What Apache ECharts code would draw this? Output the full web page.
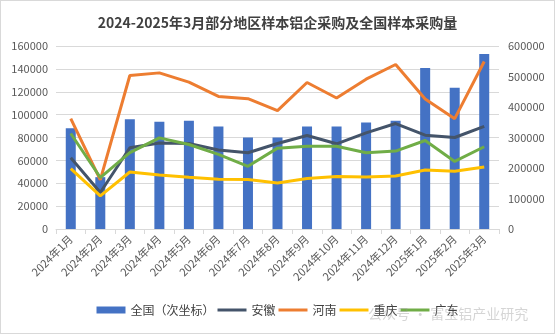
<!DOCTYPE html>
<html><head><meta charset="utf-8">
<script src="https://cdn.jsdelivr.net/npm/echarts@6/dist/echarts.min.js"></script>
<style>html,body{margin:0;padding:0;background:#fff}#c{width:553px;height:332px;border:1px solid #d9d9d9}</style>
</head><body><div id="c"></div>
<script>
const title = '2024-2025年3月部分地区样本铝企采购及全国样本采购量';
const categories = ['2024年1月','2024年2月','2024年3月','2024年4月','2024年5月','2024年6月','2024年7月','2024年8月','2024年9月','2024年10月','2024年11月','2024年12月','2025年1月','2025年2月','2025年3月'];
const national = [330000,170000,360000,352000,355000,336000,300000,300000,336000,336000,349000,355000,528000,463000,574000];
const anhui = [62300,31900,71000,75100,74800,69000,66700,74800,81700,74500,84100,92200,82000,80000,89800];
const henan = [96500,43000,134200,136500,128400,115900,113900,103500,128100,114500,131000,143800,113600,96500,146400];
const chongqing = [52800,29000,49800,47200,45200,43500,43200,40300,44100,45800,45500,46400,51600,50400,54200];
const guangdong = [83500,45000,66700,79700,73900,65200,54800,70700,72400,72400,66700,68100,77400,59100,71900];
const leftTicks = {min:0, max:160000, interval:20000};
const rightTicks = {min:0, max:600000, interval:100000};

const chart = echarts.init(document.getElementById('c'));
const font = '"Noto Sans CJK SC","Liberation Sans",sans-serif';
const lab = {color:'#595959', fontSize:11, fontFamily:font};
const numFmt = v => String(v);
const lineIcon = 'path://M0,0L29,0L29,3L0,3Z';
function line(name, data, color){
  return {name, type:'line', data, yAxisIndex:0, symbol:'none', showSymbol:false, smooth:false,
    lineStyle:{color, width:3}, itemStyle:{color}, z:3};
}
chart.setOption({
  animation:false,
  title:{text:title, left:'center', top:10, textStyle:{fontSize:14, fontWeight:'bold', color:'#404040', fontFamily:font}},
  grid:{left:55, right:55, top:45, bottom:104, containLabel:false},
  legend:{bottom:12, left:'center', itemWidth:29, itemHeight:7, itemGap:3,
    textStyle:{fontSize:12, color:'#404040', fontFamily:font},
    data:[{name:'全国（次坐标）', icon:'rect'},{name:'安徽',icon:lineIcon},{name:'河南',icon:lineIcon},{name:'重庆',icon:lineIcon},{name:'广东',icon:lineIcon}]},
  xAxis:{type:'category', data:categories, boundaryGap:true,
    axisLine:{lineStyle:{color:'#d9d9d9'}}, axisTick:{show:true, length:5, lineStyle:{color:'#d9d9d9'}},
    axisLabel:Object.assign({rotate:45, interval:0, margin:8}, lab)},
  yAxis:[
    {type:'value', min:leftTicks.min, max:leftTicks.max, interval:leftTicks.interval,
     axisLine:{show:false}, axisTick:{show:false}, axisLabel:Object.assign({margin:8, formatter:numFmt}, lab),
     splitLine:{lineStyle:{color:'#d9d9d9'}}},
    {type:'value', min:rightTicks.min, max:rightTicks.max, interval:rightTicks.interval, position:'right',
     axisLine:{show:false}, axisTick:{show:false}, axisLabel:Object.assign({margin:9, formatter:numFmt}, lab),
     splitLine:{show:false}}
  ],
  series:[
    {name:'全国（次坐标）', type:'bar', data:national, yAxisIndex:1, barWidth:10, itemStyle:{color:'#4472C4'}, z:2},
    line('安徽', anhui, '#44546A'),
    line('河南', henan, '#ED7D31'),
    line('重庆', chongqing, '#FFC000'),
    line('广东', guangdong, '#70AD47')
  ],
  graphic:[{type:'text', left:367, top:306, silent:true, z:100,
    style:{text:'公众号 · 富宝铝产业研究', fontSize:14, fill:'rgba(150,150,150,0.4)', fontFamily:font}}]
});
</script></body></html>
